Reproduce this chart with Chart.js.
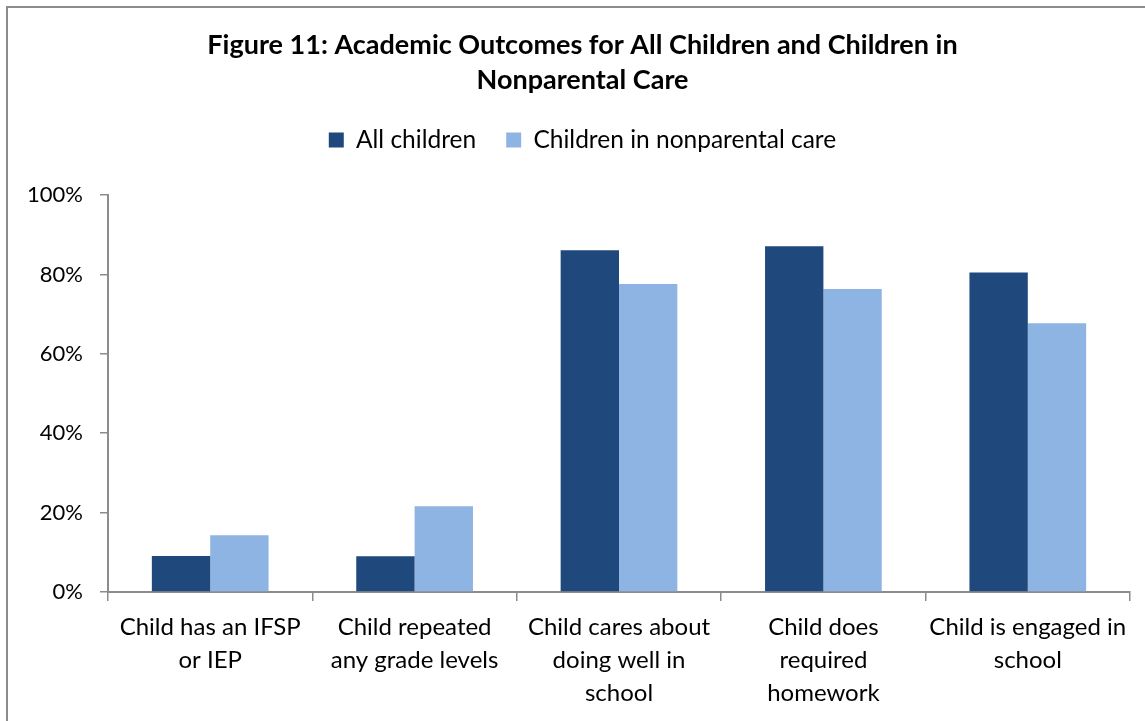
<!DOCTYPE html>
<html>
<head>
<meta charset="utf-8">
<script src="https://cdn.jsdelivr.net/npm/chart.js@4/dist/chart.umd.min.js"></script>
<style>
  html, body { margin: 0; padding: 0; background: #fff; overflow: hidden; }
  #frame { position: absolute; left: 6px; top: 6px; width: 1200px; height: 800px; border: 2px solid #8c8c8c; box-sizing: border-box; }
  #wrap { position: absolute; left: 0; top: 0; width: 1145px; height: 721px; }
</style>
</head>
<body>
<div id="frame"></div>
<div id="wrap"><canvas id="c" width="1145" height="721"></canvas></div>
<script>
const categories = [
  ["Child has an IFSP", "or IEP"],
  ["Child repeated", "any grade levels"],
  ["Child cares about", "doing well in", "school"],
  ["Child does", "required", "homework"],
  ["Child is engaged in", "school"]
];
const allChildren = [9.1, 9.0, 86.1, 87.1, 80.5];
const nonparentalCare = [14.3, 21.6, 77.6, 76.3, 67.7];
const yTicks = [0, 20, 40, 60, 80, 100];
const seriesNames = ["All children", "Children in nonparental care"];
const titleLines = ["Figure 11: Academic Outcomes for All Children and Children in", "Nonparental Care"];

const FONT = "Lato, 'Open Sans', sans-serif";
const axisColor = '#8c8c8c';

// let y-axis tick labels extend left of the scale box without being clipped
const unclipY = {
  id: 'unclipY',
  afterLayout(chart) { chart.scales.y.left = 0; }
};

new Chart(document.getElementById('c'), {
  type: 'bar',
  data: {
    labels: categories,
    datasets: [
      { label: seriesNames[0], data: allChildren, backgroundColor: '#1F497D', borderWidth: 0, categoryPercentage: 0.571, barPercentage: 1.0 },
      { label: seriesNames[1], data: nonparentalCare, backgroundColor: '#8EB4E3', borderWidth: 0, categoryPercentage: 0.571, barPercentage: 1.0 }
    ]
  },
  plugins: [unclipY],
  options: {
    responsive: false,
    animation: false,
    layout: { padding: { left: 35, right: 15, top: 27.5, bottom: 1.3 } },
    plugins: {
      title: {
        display: true,
        text: titleLines,
        color: '#000',
        font: { family: FONT, size: 27, weight: 'bold', lineHeight: 1.3 },
        padding: { top: 0, bottom: 0 }
      },
      legend: {
        display: true,
        position: 'top',
        labels: {
          color: '#000',
          font: { family: FONT, size: 24.5 },
          boxWidth: 15,
          boxHeight: 15,
          padding: 30
        }
      },
      subtitle: {
        display: true,
        text: '',
        position: 'top',
        weight: 500,
        font: { family: FONT, size: 10, lineHeight: 1 },
        padding: { top: 0, bottom: 22.8 }
      },
      tooltip: { enabled: false }
    },
    scales: {
      x: {
        grid: { display: true, drawOnChartArea: false, color: axisColor, tickLength: 9, lineWidth: 1.5, offset: true },
        border: { display: true, color: axisColor, width: 2 },
        ticks: { color: '#000', font: { family: FONT, size: 24, lineHeight: 1.37 }, maxRotation: 0, autoSkip: false, padding: 10 }
      },
      y: {
        min: 0, max: 100,
        afterBuildTicks: (axis) => { axis.ticks = yTicks.map(v => ({ value: v })); },
        afterFit: (axis) => { axis.width = 73; },
        grid: { display: true, drawOnChartArea: false, color: axisColor, tickLength: 8, lineWidth: 1.5 },
        border: { display: true, color: axisColor, width: 2 },
        ticks: { color: '#000', font: { family: FONT, size: 22 }, padding: 17, callback: (v) => v + '%' }
      }
    }
  }
});
</script>
</body>
</html>
